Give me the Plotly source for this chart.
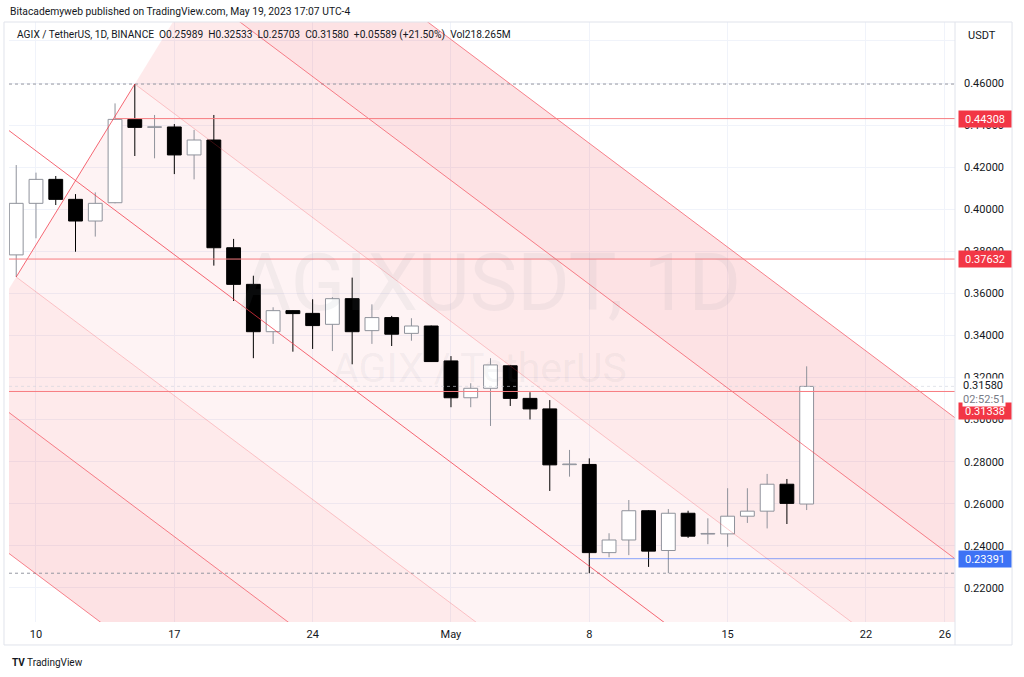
import pandas as pd
import plotly.graph_objects as go

# daily candles, AGIX/USDT (Binance)
opens = [0.3783, 0.4028, 0.4142, 0.4047, 0.3944, 0.4031, 0.4427, 0.4389, 0.4391, 0.4258,
         0.4329, 0.3817, 0.3643, 0.3418, 0.3518, 0.3505, 0.3453, 0.3575, 0.3423, 0.3485,
         0.3410, 0.3445, 0.3279, 0.3104, 0.3149, 0.3256, 0.3101, 0.3051, 0.2786, 0.2787,
         0.2368, 0.2428, 0.2567, 0.2378, 0.2555, 0.2456, 0.2457, 0.2541, 0.2565, 0.2693,
         0.25989]
highs = [0.4210, 0.4174, 0.4158, 0.4072, 0.4080, 0.4503, 0.4595, 0.4448, 0.4405, 0.4377,
         0.4448, 0.3859, 0.3684, 0.3534, 0.3520, 0.3572, 0.3582, 0.3675, 0.3548, 0.3493,
         0.3482, 0.3447, 0.3302, 0.3173, 0.3292, 0.3260, 0.3130, 0.3093, 0.2856, 0.2816,
         0.2460, 0.2618, 0.2570, 0.2575, 0.2567, 0.2531, 0.2674, 0.2674, 0.2742, 0.2718,
         0.32533]
lows = [0.3678, 0.3862, 0.4020, 0.3798, 0.3870, 0.4028, 0.4253, 0.4242, 0.4167, 0.4142,
        0.3732, 0.3564, 0.3292, 0.3360, 0.3323, 0.3336, 0.3326, 0.3263, 0.3360, 0.3350,
        0.3375, 0.3274, 0.3059, 0.3059, 0.2970, 0.3065, 0.3001, 0.2661, 0.2729, 0.2270,
        0.2346, 0.2356, 0.2300, 0.2270, 0.2438, 0.2408, 0.2396, 0.2509, 0.2483, 0.2504,
        0.25703]
closes = [0.4028, 0.4142, 0.4047, 0.3944, 0.4028, 0.4427, 0.4389, 0.4391, 0.4258, 0.4329,
          0.3817, 0.3643, 0.3418, 0.3518, 0.3504, 0.3447, 0.3575, 0.3418, 0.3485, 0.3406,
          0.3445, 0.3276, 0.3104, 0.3149, 0.3260, 0.3101, 0.3051, 0.2785, 0.2788, 0.2368,
          0.2428, 0.2567, 0.2375, 0.2555, 0.2446, 0.2458, 0.2541, 0.2565, 0.2693, 0.2602,
          0.31580]
dates = pd.date_range("2023-04-09", periods=len(opens), freq="D")

# pitchfork anchors: A (handle), B, C
fork_dates = ["2023-04-05", "2023-04-15", "2023-04-09"]
fork_prices = [0.4630, 0.4595, 0.3678]
fork_levels = [1, 2, 3]
fork_alpha = [0.06, 0.105, 0.145]

# horizontal lines drawn by the author
hline_values = [0.44308, 0.37632, 0.31338]
hline_starts = ["2023-04-14", "2023-04-01", "2023-04-01"]
support_value = 0.23391
support_start = "2023-05-08"

price_ticks = [0.22, 0.24, 0.26, 0.28, 0.30, 0.32, 0.34, 0.36, 0.38, 0.40, 0.42, 0.44, 0.46, 0.48]
date_ticks = ["2023-04-10", "2023-04-17", "2023-04-24", "2023-05-01", "2023-05-08",
              "2023-05-15", "2023-05-22", "2023-05-26"]
date_labels = ["10", "17", "24", "May", "8", "15", "22", "26"]

X_RANGE = ["2023-04-08 15:13", "2023-05-26 12:10"]
Y_RANGE = [0.20382, 0.48899]
FAR = "2023-07-01"


def red(a):
    return f"rgba(242,54,69,{a})"


# ── pitchfork geometry (days from first candle, price) ──
t0 = dates[0]


def to_days(d):
    return (pd.Timestamp(d) - t0) / pd.Timedelta(days=1)


def to_date(x):
    return t0 + pd.Timedelta(days=x)


A = (to_days(fork_dates[0]), fork_prices[0])
B = (to_days(fork_dates[1]), fork_prices[1])
C = (to_days(fork_dates[2]), fork_prices[2])
M = ((B[0] + C[0]) / 2, (B[1] + C[1]) / 2)
D = (M[0] - A[0], M[1] - A[1])


def fork_point(k, t):
    x = M[0] + k * (B[0] - M[0]) + t * D[0]
    y = M[1] + k * (B[1] - M[1]) + t * D[1]
    return to_date(x), y


fig = go.Figure()

# fills (bottom subplot)
for sign in (1, -1):
    prev = 0
    for lev, a in zip(fork_levels, fork_alpha):
        k1, k2 = sign * prev, sign * lev
        pts = [fork_point(k1, 0), fork_point(k1, 12), fork_point(k2, 12), fork_point(k2, 0), fork_point(k1, 0)]
        fig.add_trace(go.Scatter(
            x=[p[0] for p in pts], y=[p[1] for p in pts], mode="lines",
            fill="toself", fillcolor=red(a), line=dict(width=0), hoverinfo="skip",
        ))
        prev = lev

# candles (overlay subplot so they sit above the fills)
bull = [c >= o for o, c in zip(opens, closes)]
tops = [max(o, c) for o, c in zip(opens, closes)]
bots = [min(o, c) for o, c in zip(opens, closes)]
sizes = [max(t - b, 0.0003) for t, b in zip(tops, bots)]
BULL_LINE = "#8f929b"

fig.add_trace(go.Bar(
    x=dates, y=sizes, base=bots, width=0.7 * 86400000, xaxis="x2", yaxis="y2",
    marker=dict(color=["#ffffff" if b else "#000000" for b in bull],
                line=dict(color=[BULL_LINE if b else "#000000" for b in bull], width=1)),
    hoverinfo="skip",
))

for is_bull, col in ((True, BULL_LINE), (False, "#000000")):
    wx, wy = [], []
    for d, h, l, t, b, up in zip(dates, highs, lows, tops, bots, bull):
        if up != is_bull:
            continue
        wx += [d, d, None, d, d, None]
        wy += [t, h, None, l, b, None]
    fig.add_trace(go.Scatter(x=wx, y=wy, mode="lines", xaxis="x2", yaxis="y2",
                             line=dict(color=col, width=1), hoverinfo="skip"))

# high / low dotted lines, faint last-price line
for v, col in ((max(highs), "#9598a1"), (min(lows), "#9598a1"), (closes[-1], "rgba(209,212,220,0.6)")):
    fig.add_trace(go.Scatter(x=[X_RANGE[0], FAR], y=[v, v], mode="lines", xaxis="x2", yaxis="y2",
                             line=dict(color=col, width=1, dash="dot"), hoverinfo="skip"))

# pitchfork lines
for k in [-3, -2, -1, 0, 1, 2, 3]:
    start = -1 if k == 0 else 0
    p0, p1 = fork_point(k, start), fork_point(k, 12)
    a = 0.75 if k == 0 else (0.25 if abs(k) == 1 else 0.6)
    fig.add_trace(go.Scatter(x=[p0[0], p1[0]], y=[p0[1], p1[1]], mode="lines", xaxis="x2", yaxis="y2",
                             line=dict(color=red(a), width=1), hoverinfo="skip"))
fig.add_trace(go.Scatter(x=[fork_dates[2], fork_dates[1]], y=[fork_prices[2], fork_prices[1]],
                         mode="lines", xaxis="x2", yaxis="y2",
                         line=dict(color=red(0.75), width=1), hoverinfo="skip"))

# horizontal levels
for v, s in zip(hline_values, hline_starts):
    fig.add_trace(go.Scatter(x=[s, FAR], y=[v, v], mode="lines", xaxis="x2", yaxis="y2",
                             line=dict(color="#f77c80", width=1), hoverinfo="skip"))
fig.add_trace(go.Scatter(x=[support_start, FAR], y=[support_value, support_value], mode="lines",
                         xaxis="x2", yaxis="y2", line=dict(color="rgba(41,98,255,0.55)", width=1),
                         hoverinfo="skip"))

# price axis labels
for v, shift in zip(hline_values, [0, 0, -20]):
    fig.add_annotation(x=1, xref="paper", xanchor="left", xshift=3, y=v, yref="y", yshift=shift,
                       text=f"{v:.5f}", showarrow=False, bgcolor="#f23645", width=50, height=14,
                       font=dict(color="white", size=11), borderpad=1)
fig.add_annotation(x=1, xref="paper", xanchor="left", xshift=3, y=support_value, yref="y",
                   text=f"{support_value:.5f}", showarrow=False, bgcolor="#3d72f5", width=50, height=14,
                   font=dict(color="white", size=11), borderpad=1)
fig.add_annotation(x=1, xref="paper", xanchor="left", xshift=7, y=closes[-1], yref="y", yshift=-6,
                   text=f"{closes[-1]:.5f}<br><span style='color:#787b86'>02:52:51</span>",
                   showarrow=False, bgcolor="white", align="left",
                   font=dict(color="#131722", size=11), borderpad=0)

# watermark
fig.add_annotation(x=0.5085, y=0.565, xref="paper", yref="paper", text="AGIXUSDT, 1D", showarrow=False,
                   font=dict(size=80, color="rgba(120,123,134,0.08)"))
fig.add_annotation(x=0.497, y=0.423, xref="paper", yref="paper", text="AGIX / TetherUS", showarrow=False,
                   font=dict(size=41, color="rgba(120,123,134,0.08)"))

# headers / footer
fig.add_annotation(x=-0.001, y=1.0167, xref="paper", yref="paper", xanchor="left", yanchor="middle",
                   text="Bitacademyweb published on TradingView.com, May 19, 2023 17:07 UTC-4",
                   showarrow=False, font=dict(size=10.3, color="#131722"))
fig.add_annotation(x=0.0063, y=0.978, xref="paper", yref="paper", xanchor="left", yanchor="middle",
                   text="AGIX / TetherUS, 1D, BINANCE  O0.25989  H0.32533  L0.25703  C0.31580  "
                        "+0.05589 (+21.50%)  Vol218.265M",
                   showarrow=False, font=dict(size=10.2, color="#131722"))
fig.add_annotation(x=1.0285, y=0.978, xref="paper", yref="paper", xanchor="center", yanchor="middle",
                   text="USDT", showarrow=False, font=dict(size=11, color="#131722"))
fig.add_annotation(x=0.001, y=-0.0667, xref="paper", yref="paper", xanchor="left", yanchor="middle",
                   text="<b>TV</b> TradingView", showarrow=False, font=dict(size=10, color="#131722"))

# frame
fig.add_shape(type="rect", xref="paper", yref="paper", x0=-0.0053, x1=1.0603, y0=-0.0383, y1=1.0,
              line=dict(color="#e0e3eb", width=1), layer="above")
fig.add_shape(type="line", xref="paper", yref="paper", x0=1.0, x1=1.0, y0=-0.0383, y1=1.0,
              line=dict(color="#e0e3eb", width=1), layer="above")

fig.update_layout(
    width=1024,
    height=677,
    margin=dict(l=9, r=69, t=22, b=55),
    plot_bgcolor="white",
    paper_bgcolor="white",
    showlegend=False,
    hovermode=False,
    font=dict(family="Roboto", size=11, color="#131722"),
    xaxis=dict(type="date", range=X_RANGE, tickvals=date_ticks, ticktext=date_labels,
               showgrid=True, gridcolor="#f0f3fa", zeroline=False, showline=False, ticks="",
               ticklabelstandoff=4),
    yaxis=dict(range=Y_RANGE, side="right", tickvals=price_ticks,
               ticktext=[f"{v:.5f}" if v < 0.47 else "" for v in price_ticks],
               showgrid=True, gridcolor="#f0f3fa", zeroline=False, showline=False, ticks="",
               ticklabelstandoff=8),
    xaxis2=dict(type="date", range=X_RANGE, overlaying="x", visible=False),
    yaxis2=dict(range=Y_RANGE, overlaying="y", visible=False),
)

# the page's default 8px body margin would shift the figure
fig.write_html("out.html", config={"displayModeBar": False},
               post_script="document.body.style.margin='0px';")
